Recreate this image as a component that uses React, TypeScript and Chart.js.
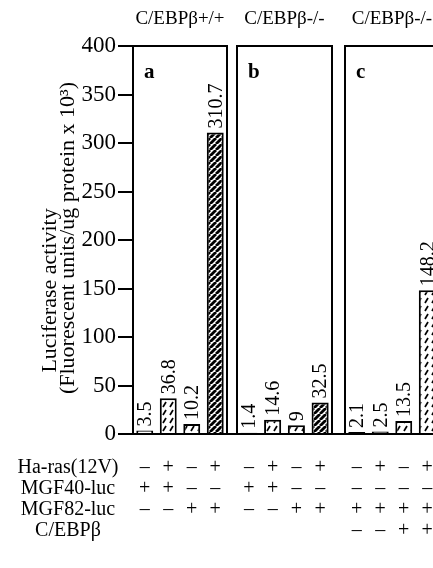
import React, { useEffect, useRef } from 'react';
import { Chart, registerables } from 'chart.js';

Chart.register(...registerables);

// ---------- data ----------
const panelTitles = ['C/EBPβ+/+', 'C/EBPβ-/-', 'C/EBPβ-/-'];
const panelLetters = ['a', 'b', 'c'];

const valuesA = [3.5, 36.8, 10.2, 310.7];
const valuesB = [1.4, 14.6, 9, 32.5];
const valuesC = [2.1, 2.5, 13.5, 148.2];

const yMin = 0;
const yMax = 400;
const yStep = 50;
const yTitleLines = ['Luciferase activity', '(Fluorescent units/ug protein x 10³)'];

const rowLabels = ['Ha-ras(12V)', 'MGF40-luc', 'MGF82-luc', 'C/EBPβ'];

const rasA = ['–', '+', '–', '+'];
const mgf40A = ['+', '+', '–', '–'];
const mgf82A = ['–', '–', '+', '+'];
const cebpA = ['', '', '', ''];

const rasB = ['–', '+', '–', '+'];
const mgf40B = ['+', '+', '–', '–'];
const mgf82B = ['–', '–', '+', '+'];
const cebpB = ['', '', '', ''];

const rasC = ['–', '+', '–', '+'];
const mgf40C = ['–', '–', '–', '–'];
const mgf82C = ['+', '+', '+', '+'];
const cebpC = ['–', '–', '+', '+'];

// ---------- styles ----------
const FONT = "'Liberation Serif', 'Times New Roman', serif";
const CANVAS_H = 568;
const panelLayouts = [
  { width: 230, padLeft: 0, padRight: 3, axis: true, fills: ['none', 'slash', 'slash', 'dense'] },
  { width: 109, padLeft: 7, padRight: 7, axis: false, fills: ['none', 'slash', 'slash', 'dense'] },
  { width: 112, padLeft: 6, padRight: 12, axis: false, fills: ['none', 'none', 'slash', 'slash'] },
];

const panelData = [
  { values: valuesA, rows: [rasA, mgf40A, mgf82A, cebpA] },
  { values: valuesB, rows: [rasB, mgf40B, mgf82B, cebpB] },
  { values: valuesC, rows: [rasC, mgf40C, mgf82C, cebpC] },
];

function makeFill(kind: string): any {
  if (kind === 'none') return '#ffffff';
  const c = document.createElement('canvas');
  const g = c.getContext('2d')!;
  if (kind === 'slash') {
    c.width = 7;
    c.height = 8;
    g.fillStyle = '#fff';
    g.fillRect(0, 0, 7, 8);
    g.strokeStyle = '#000';
    g.lineWidth = 1.7;
    g.beginPath();
    g.moveTo(2, 7);
    g.lineTo(5, 2);
    g.stroke();
  } else {
    c.width = 6;
    c.height = 6;
    g.fillStyle = '#fff';
    g.fillRect(0, 0, 6, 6);
    g.strokeStyle = '#000';
    g.lineWidth = 2.8;
    for (let o = -6; o <= 6; o += 6) {
      g.beginPath();
      g.moveTo(o, 6);
      g.lineTo(o + 6, 0);
      g.stroke();
    }
  }
  return g.createPattern(c, 'repeat');
}

const TICK_GAP = 23;
const ROW_LH = 21;

function Panel({ index }: { index: number }) {
  const ref = useRef<HTMLCanvasElement | null>(null);
  const layout = panelLayouts[index];
  const data = panelData[index];

  useEffect(() => {
    if (!ref.current) return;
    const labels = data.values.map((_, i) => data.rows.map((r) => r[i]));

    const decor = {
      id: 'decor' + index,
      afterDatasetsDraw(chart: any) {
        const { ctx, chartArea } = chart;
        const { left, right, top, bottom } = chartArea;
        ctx.save();
        // panel box
        ctx.strokeStyle = '#000';
        ctx.lineWidth = 2;
        ctx.strokeRect(left, top, right - left, bottom - top);
        // baseline across
        ctx.beginPath();
        ctx.moveTo(layout.axis ? left : 0, bottom);
        ctx.lineTo(chart.width, bottom);
        ctx.stroke();
        // panel letter
        ctx.fillStyle = '#000';
        ctx.font = `bold 21px ${FONT}`;
        ctx.textAlign = 'left';
        ctx.textBaseline = 'alphabetic';
        ctx.fillText(panelLetters[index], left + 11, top + 32);
        // value labels
        const meta = chart.getDatasetMeta(0);
        ctx.font = `20px ${FONT}`;
        meta.data.forEach((bar: any, i: number) => {
          ctx.save();
          ctx.translate(bar.x, bar.y - 4);
          ctx.rotate(-Math.PI / 2);
          ctx.textAlign = 'left';
          ctx.textBaseline = 'middle';
          ctx.fillText(String(data.values[i]), 0, 1);
          ctx.restore();
        });
        if (layout.axis) {
          // y title
          ctx.font = `22px ${FONT}`;
          ctx.textAlign = 'center';
          ctx.textBaseline = 'middle';
          const h = bottom - top;
          ctx.save();
          ctx.translate(left - 83, top + h * 0.63);
          ctx.rotate(-Math.PI / 2);
          ctx.fillText(yTitleLines[0], 0, 0);
          ctx.restore();
          ctx.save();
          ctx.translate(left - 65, top + h * 0.495);
          ctx.rotate(-Math.PI / 2);
          ctx.fillText(yTitleLines[1], 0, 0);
          ctx.restore();
          // row labels
          ctx.font = `20px ${FONT}`;
          rowLabels.forEach((t, r) => {
            ctx.fillText(t, left - 65, bottom + TICK_GAP + ROW_LH / 2 + r * ROW_LH);
          });
        }
        ctx.restore();
      },
    };

    const chart = new Chart(ref.current, {
      type: 'bar',
      data: {
        labels,
        datasets: [
          {
            data: data.values,
            backgroundColor: layout.fills.map(makeFill),
            borderColor: '#000',
            borderWidth: 2,
            barPercentage: 0.8,
            categoryPercentage: 0.9,
          },
        ],
      },
      options: {
        responsive: false,
        animation: false,
        devicePixelRatio: 1,
        layout: { padding: { left: layout.padLeft, right: layout.padRight, top: 0, bottom: 0 } },
        plugins: {
          legend: { display: false },
          tooltip: { enabled: false },
          title: {
            display: true,
            text: panelTitles[index],
            color: '#000',
            fullSize: false,
            font: { family: FONT, size: 19, weight: 'normal' },
            padding: { top: 8, bottom: 15.2 },
          },
        },
        scales: {
          x: {
            type: 'category',
            grid: {
              display: true,
              drawOnChartArea: false,
              drawTicks: true,
              tickLength: TICK_GAP,
              color: 'rgba(0,0,0,0)',
            },
            border: { display: false },
            ticks: {
              color: '#000',
              font: { family: FONT, size: 20, lineHeight: ROW_LH + 'px' },
              padding: 0,
              maxRotation: 0,
              autoSkip: false,
            },
            afterFit: (s: any) => {
              s.height = CANVAS_H - 434;
            },
          },
          y: {
            display: layout.axis,
            min: yMin,
            max: yMax,
            ticks: {
              stepSize: yStep,
              color: '#000',
              font: { family: FONT, size: 23 },
              padding: 2,
            },
            grid: {
              drawOnChartArea: false,
              drawTicks: true,
              tickLength: 15,
              color: '#000',
              lineWidth: 2,
            },
            border: { display: false },
            afterFit: (s: any) => {
              s.width = layout.axis ? 133 : 0;
            },
          },
        },
      },
      plugins: [decor],
    } as any);
    return () => chart.destroy();
  }, [index]);

  return (
    <canvas
      ref={ref}
      width={layout.width}
      height={CANVAS_H}
      style={{ display: 'block', flex: 'none', width: layout.width, height: CANVAS_H }}
    />
  );
}

export default function App() {
  return (
    <div
      style={{
        position: 'fixed',
        left: 0,
        top: 0,
        width: 433,
        height: 568,
        overflow: 'hidden',
        background: '#fff',
        display: 'flex',
        flexDirection: 'row',
      }}
    >
      <Panel index={0} />
      <Panel index={1} />
      <Panel index={2} />
    </div>
  );
}
